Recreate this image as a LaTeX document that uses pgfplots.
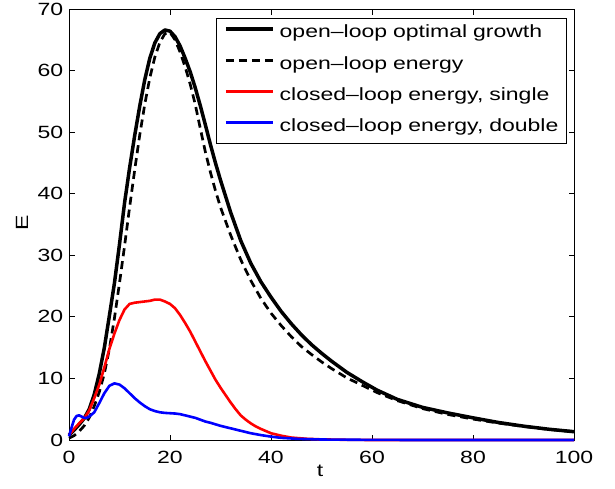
\documentclass[border=0pt]{standalone}
\usepackage{fontspec}
\setmainfont[FakeStretch=1.3]{Liberation Sans}
\usepackage{pgfplots}
\pgfplotsset{compat=1.18}
\pgfplotstableread{
t E
0 0.8
1 1.6
2 2.5
3 3.5
4 5.0
5 7.4
6 10.8
7 15.0
8 20.2
9 25.5
10 31.8
11 38.5
12 44.2
13 49.4
14 54.2
15 58.5
16 62.0
17 64.5
18 66.0
19 66.6
20 66.4
21 65.5
22 64.0
23 62.0
24 59.8
25 57.2
26 54.3
27 51.2
28 48.0
29 45.0
30 42.2
32 37.0
34 32.4
36 28.7
38 25.7
40 23.2
42 20.9
44 18.9
46 17.1
48 15.5
50 14.1
52 12.8
55 11.0
58 9.5
61 8.1
65 6.6
70 5.3
75 4.4
80 3.6
85 2.85
90 2.25
95 1.75
100 1.35
}\optimal
\pgfplotstableread{
t E
0 0.3
1 0.7
2 1.4
3 2.3
4 3.6
5 5.5
6 7.8
7 10.8
8 14.8
9 19.8
10 25.5
11 31.5
12 37.8
13 43.8
14 49.5
15 54.5
16 58.8
17 62.2
18 64.6
19 66.0
20 66.2
21 65.0
22 63.0
23 60.6
24 57.8
25 54.5
26 50.6
27 46.8
28 43.5
29 40.5
30 37.8
32 33.3
34 29.3
36 25.9
38 23.0
40 20.6
42 18.6
44 16.8
46 15.2
48 13.9
50 12.7
52 11.6
55 10.1
58 8.9
61 7.7
65 6.4
70 5.1
75 4.15
80 3.4
85 2.75
90 2.2
95 1.72
100 1.35
}\openloop
\pgfplotstableread{
t E
0 0.8
1 1.8
2 2.7
3 3.5
4 4.8
5 6.8
6 9.0
7 11.8
8 14.8
9 17.3
10 19.5
11 21.2
12 22.1
13 22.3
14 22.4
15 22.5
16 22.6
17 22.8
18 22.8
19 22.5
20 22.1
21 21.4
22 20.3
23 19.0
24 17.6
25 16.0
26 14.4
27 12.8
28 11.3
29 9.8
30 8.5
31 7.3
32 6.1
33 5.0
34 4.0
35 3.3
36 2.7
37 2.2
38 1.8
40 1.1
42 0.7
44 0.4
47 0.2
50 0.1
55 0.03
60 0.0
100 0.0
}\single
\pgfplotstableread{
t E
0 0.6
0.5 2.0
1 3.3
1.5 3.9
2 4.0
2.5 3.8
3 3.6
3.5 3.6
4 3.8
5 4.5
6 6.0
7 7.6
8 8.8
9 9.2
10 9.0
11 8.4
12 7.6
13 6.8
14 6.1
15 5.5
16 5.0
17 4.7
18 4.5
19 4.4
20 4.35
21 4.3
22 4.2
23 4.0
24 3.8
25 3.6
26 3.3
27 3.0
28 2.8
30 2.3
32 1.9
34 1.5
36 1.1
38 0.8
40 0.55
42 0.35
45 0.2
50 0.08
60 0.02
70 0.0
100 0.0
}\double
\begin{document}
\begin{tikzpicture}
\useasboundingbox (-69pt,-48pt) rectangle (546pt,440pt);
\begin{axis}[
  at={(0pt,0pt)}, anchor=south west,
  scale only axis, width=505pt, height=431pt,
  xmin=0, xmax=100, ymin=0, ymax=70,
  xtick={0,20,...,100}, ytick={0,10,...,70},
  tick align=inside, major tick length=5.5pt,
  axis line style={line width=0.8pt},
  every tick/.style={black, line width=0.8pt},
  font=\fontsize{17.7}{20}\selectfont,
  /pgf/number format/assume math mode=true,
  xticklabel style={inner sep=0pt, yshift=-10.7pt},
  yticklabel style={inner sep=0pt, xshift=-5.7pt},
  xlabel={t}, ylabel={E},
  xlabel style={at={(axis description cs:0.497,-0.072)}, anchor=center, inner sep=0pt},
  ylabel style={at={(axis description cs:-0.0931,0.503)}, anchor=center, inner sep=0pt},
  clip=false,
  legend cell align=left,
  legend style={at={(axis description cs:1,1)}, anchor=north east, xshift=-7pt, yshift=-9pt,
    draw=black, line width=0.6pt, inner xsep=8pt, inner ysep=0pt, row sep=0pt,
    nodes={inner sep=0pt, text height=19.5pt, text depth=11.75pt, text width=279pt, align=left},
    /tikz/every odd column/.append style={column sep=5pt}},
  legend image code/.code={\draw[#1] (0pt,5pt) -- (47pt,5pt);},
]
\addplot[black, line width=3.5pt, line join=round] table {\optimal};
\addlegendentry{open\textendash loop optimal growth}
\addplot[black, line width=2.7pt, dash pattern=on 8pt off 5pt] table {\openloop};
\addlegendentry{open\textendash loop energy}
\addplot[red, line width=2.6pt, line join=round] table {\single};
\addlegendentry{closed\textendash loop energy, single}
\addplot[blue, line width=2.6pt, line join=round] table {\double};
\addlegendentry{closed\textendash loop energy, double}
\end{axis}
\end{tikzpicture}
\end{document}
